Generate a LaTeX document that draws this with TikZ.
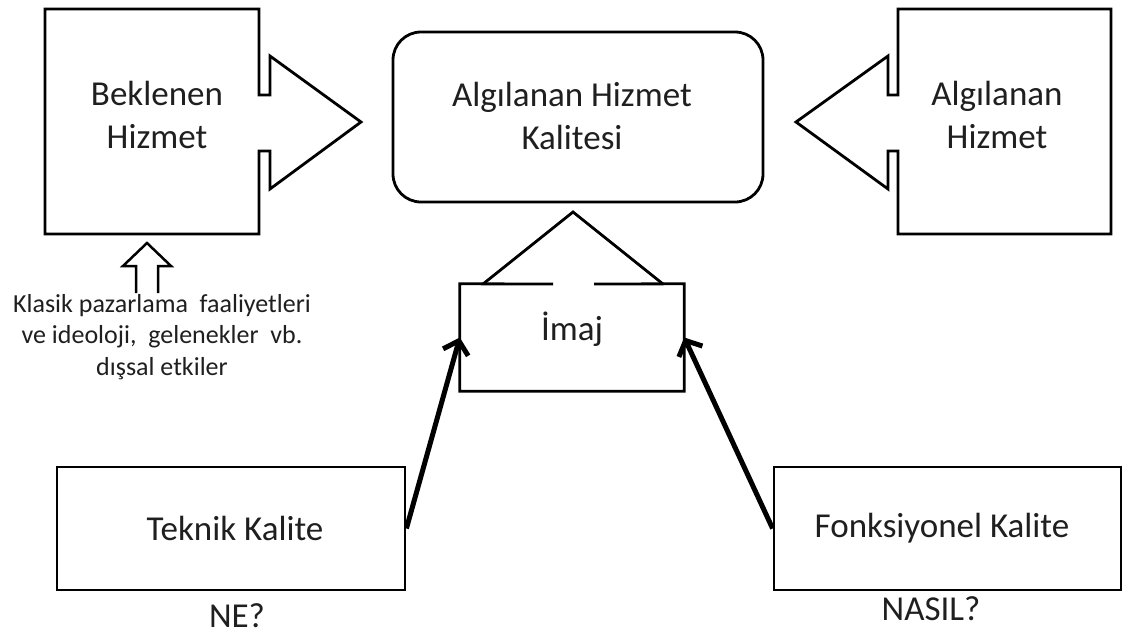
\documentclass[tikz,border=0pt]{standalone}
\usepackage{fontspec}
\setmainfont{Carlito}
\usetikzlibrary{arrows.meta}
\begin{document}
\begin{tikzpicture}[x=1pt,y=-1pt,
  shp/.style={draw=black, line width=2.8pt, line join=miter},
  boxnode/.style={draw=black, line width=2.8pt, inner sep=0pt},
  big/.style={font=\fontsize{35}{43}\selectfont, align=center, inner sep=0pt, text=black!88},
  small/.style={font=\fontsize{26}{31.6}\selectfont, align=center, inner sep=0pt, text=black!88},
  conn/.style={line width=5pt, -{Straight Barb[length=12pt,width=26pt,line width=5pt]}}
]
\useasboundingbox (0,0) rectangle (1128,635);
\fill[white] (0,0) rectangle (1128,635);

% left callout
\draw[shp] (45,9) -- (259,9) -- (259,95) -- (270,95) -- (270,56) -- (361,122) -- (270,189) -- (270,151) -- (259,151) -- (259,234) -- (45,234) -- cycle;
\node[big] (bek) at (157,114.5) {Beklenen\\Hizmet};

% right callout
\draw[shp] (1111,9) -- (898,9) -- (898,95) -- (888,95) -- (888,56) -- (796,122) -- (888,189) -- (888,151) -- (898,151) -- (898,234) -- (1111,234) -- cycle;
\node[big] (alh) at (997,114.5) {Algılanan\\Hizmet};

% middle rounded box
\node[boxnode, rounded corners=28pt, minimum width=370pt, minimum height=170pt] (ahk) at (578,117) {};
\node[big] (ahkt) at (572,115.5) {Algılanan Hizmet\\Kalitesi};

% imaj
\node[inner sep=0pt, minimum width=224pt, minimum height=107pt] (imaj) at (572,337.5) {};
\draw[shp] (553,284) -- (imaj.north west) -- (imaj.south west) -- (imaj.south east) -- (imaj.north east) -- (594,284);
\draw[shp] (483,284) -- (573,212) -- (663,284);
\node[big] (imajt) at (572,329.5) {İmaj};

% small up arrow and text
\draw[line width=2.5pt, line join=miter] (136,293) -- (136,266) -- (123,266) -- (147,243) -- (171,266) -- (158,266) -- (158,293);
\node[small] (ext) at (162,337) {Klasik pazarlama\ \ faaliyetleri\\ve ideoloji,\ \ gelenekler\ \ vb.\\dışsal etkiler};

% bottom boxes
\node[boxnode, minimum width=348pt, minimum height=123pt] (tek) at (231,528.5) {};
\node[big] (tekt) at (235,528) {Teknik Kalite};
\node[big] (ne) at (237,616) {NE?};

\node[boxnode, minimum width=347pt, minimum height=123pt] (fonk) at (947.5,528.5) {};
\node[big] (fonkt) at (942,528) {Fonksiyonel Kalite};
\node[big] (nasil) at (931,609) {NASIL?};

% connectors
\draw[conn] (tek.east) -- (imaj.west);
\draw[conn] (fonk.west) -- (imaj.east);
\end{tikzpicture}
\end{document}
